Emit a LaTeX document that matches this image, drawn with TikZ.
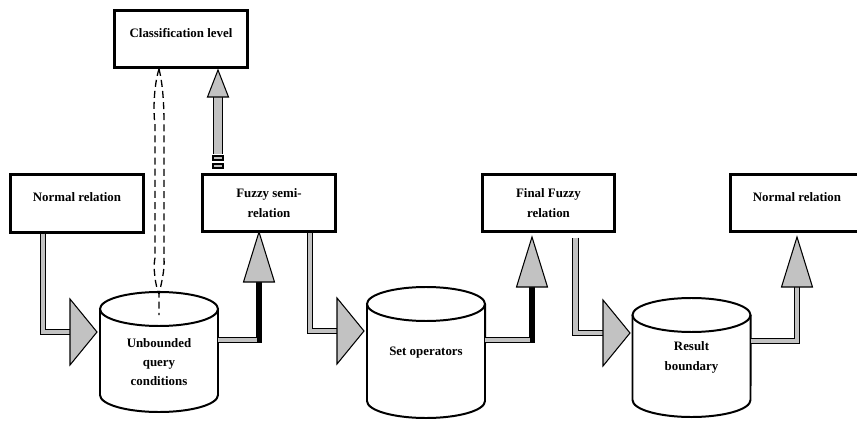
\documentclass[tikz,border=0pt]{standalone}
\usepackage{fontspec}
\setmainfont{Liberation Serif}
\definecolor{shaftgray}{gray}{0.76}

\tikzset{
  rhead/.pic={\draw[head] (0,-33) -- (27,0) -- (0,33) -- cycle;},
  uhead/.pic={\draw[head] (-15.5,0) -- (0,-50) -- (15.5,0) -- cycle;},
  chead/.pic={\draw[head] (-10.5,0) -- (0,-27) -- (10.5,0) -- cycle;}
}

\begin{document}
\begin{tikzpicture}[x=0.03cm, y=-0.03cm,
  box/.style={draw, line width=2.3pt, minimum width=3.98cm, minimum height=1.72cm, align=center, inner sep=2pt, font=\bfseries\fontsize{11}{16.5}\selectfont},
  oneline/.style={text depth=11pt},
  store/.style={minimum width=3.54cm, minimum height=3.6cm, inner sep=0pt, outer sep=0pt},
  storeline/.style={line width=1.7pt},
  storetxt/.style={align=center, inner sep=1pt, font=\bfseries\fontsize{11}{16.5}\selectfont},
  shaft/.style={draw=black, double=shaftgray, double distance=3.6pt, line width=0.8pt},
  wideshaft/.style={draw=black, double=shaftgray, double distance=7.2pt, line width=0.8pt},
  solidshaft/.style={line width=3.4pt},
  head/.style={draw=black, fill=shaftgray, line width=0.9pt, line join=miter},
  link/.style={line width=1.1pt, dash pattern=on 6pt off 3.5pt}
]
  \useasboundingbox (0,0) rectangle (857,421);

  % boxes
  \node[box, oneline] (cls) at (181,39) {Classification level};
  \node[box, oneline] (nrel) at (77,203.5) {Normal relation};
  \node[box] (fsr) at (269,203) {Fuzzy semi-\\relation};
  \node[box] (ffr) at (548.5,203) {Final Fuzzy\\relation};
  \node[box, oneline] (nrel2) at (797,203) {Normal relation};

  % stores
  \node[store] (uqc) at (159,352) {};
  \node[store, minimum height=3.93cm] (setop) at (426,352.5) {};
  \node[store, minimum height=3.57cm] (resb) at (691.5,357.5) {};
  \foreach \n in {uqc,setop,resb} {
    \draw[storeline] ([yshift=-0.51cm]\n.north) ellipse (59 and 17);
    \draw[storeline] ([yshift=-0.51cm]\n.north west) -- ([yshift=0.51cm]\n.south west)
      arc (180:0:59 and 17) -- ([yshift=-0.51cm]\n.north east);
  }
  \node[storetxt] (uqc-t) at ([yshift=-0.3cm]uqc.center) {Unbounded\\query\\conditions};
  \node[storetxt] (setop-t) at (setop.center) {Set operators};
  \node[storetxt] (resb-t) at (resb.center) {Result\\boundary};

  % block arrows
  \coordinate (a1) at (70,332);
  \draw[shaft] (43,0 |- nrel.south) |- (a1);
  \pic at (a1) {rhead};

  \coordinate (a2) at (259,282);
  \draw[shaft] (uqc.east |- 0,340) -| (a2);
  \draw[solidshaft] (a2 |- 0,342) -- (a2);
  \pic at (a2) {uhead};

  \coordinate (a3) at (337,331);
  \draw[shaft] (310,0 |- fsr.south) |- (a3);
  \pic at (a3) {rhead};

  \coordinate (a4) at (532,287);
  \draw[shaft] (setop.east |- 0,340) -| (a4);
  \draw[solidshaft] (a4 |- 0,342) -- (a4);
  \pic at (a4) {uhead};

  \coordinate (a5) at (603,333);
  \draw[shaft] ([yshift=-4pt]575.5,0 |- ffr.south) |- (a5);
  \pic at (a5) {rhead};

  \coordinate (a6) at (797,287);
  \draw[shaft] (resb.east |- 0,341) -| (a6);
  \pic at (a6) {uhead};

  % fuzzy semi-relation up to classification level
  \coordinate (a7) at (218,97);
  \draw[wideshaft] (218,154) -- (a7);
  \pic at (a7) {chead};
  \foreach \y in {156,164}
    \draw[head] (213,\y) rectangle ++(10,4);

  % dashed link between classification level and the query conditions
  \draw[link] (159,0 |- cls.south) .. controls (154,85) and (153,110) .. (155,125)
    -- (155,258) .. controls (153,266) and (155,285) .. (159,294) -- (159,315);
  \draw[link] (159,0 |- cls.south) .. controls (163,85) and (164,105) .. (164,125)
    -- (164,258) .. controls (165,270) and (161,285) .. (159,294);
\end{tikzpicture}
\end{document}
